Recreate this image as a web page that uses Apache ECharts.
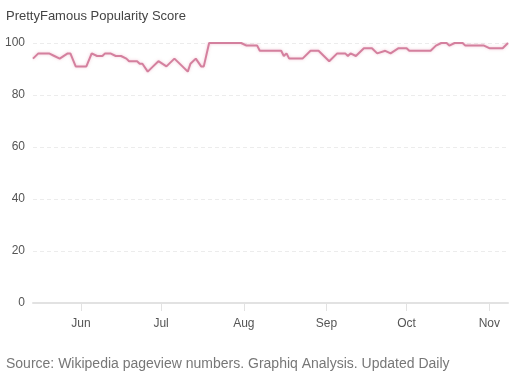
<!DOCTYPE html>
<html>
<head>
<meta charset="utf-8">
<script src="https://cdn.jsdelivr.net/npm/echarts@6/dist/echarts.min.js"></script>
<style>
html,body{margin:0;padding:0;background:#fff;}
#chart{width:531px;height:379px;}
</style>
</head>
<body>
<div id="chart"></div>
<script>
const titleText = 'PrettyFamous Popularity Score';
const sourceText = 'Source: Wikipedia pageview numbers. Graphiq Analysis. Updated Daily';
const monthNames = ['Jan','Feb','Mar','Apr','May','Jun','Jul','Aug','Sep','Oct','Nov','Dec'];
const yTicks = [0, 20, 40, 60, 80, 100];
const dates = [
  '2017-05-14','2017-05-16','2017-05-20','2017-05-22','2017-05-24','2017-05-27','2017-05-28','2017-05-30',
  '2017-06-03','2017-06-05','2017-06-07','2017-06-09','2017-06-10','2017-06-12','2017-06-14','2017-06-16',
  '2017-06-18','2017-06-19','2017-06-22','2017-06-23','2017-06-24','2017-06-26','2017-06-28','2017-06-30',
  '2017-07-03','2017-07-06','2017-07-09','2017-07-11','2017-07-12','2017-07-14','2017-07-16','2017-07-17',
  '2017-07-19','2017-07-31','2017-08-02','2017-08-06','2017-08-07','2017-08-15','2017-08-16','2017-08-17',
  '2017-08-18','2017-08-23','2017-08-26','2017-08-29','2017-09-02','2017-09-05','2017-09-08','2017-09-09',
  '2017-09-10','2017-09-12','2017-09-15','2017-09-18','2017-09-20','2017-09-23','2017-09-25','2017-09-28',
  '2017-10-01','2017-10-02','2017-10-10','2017-10-12','2017-10-14','2017-10-16','2017-10-17','2017-10-19',
  '2017-10-22','2017-10-23','2017-10-30','2017-11-01','2017-11-06','2017-11-08'
];
const scores = [
  94,96,96,95,94,96,96,91,
  91,96,95,95,96,96,95,95,
  94,93,93,92,92,89,91,93,
  91,94,91,89,92,94,91,91,
  100,100,99,99,97,97,95,96,
  94,94,97,97,93,96,96,95,
  96,95,98,98,96,97,96,98,
  98,97,97,99,100,100,99,100,
  100,99,99,98,98,100
];

const chart = echarts.init(document.getElementById('chart'), null, {renderer:'canvas'});
const seriesData = dates.map((d, i) => [d, scores[i]]);
chart.setOption({
  backgroundColor: '#ffffff',
  animation: false,
  title: [
    {text: titleText, left: 6, top: 10, padding: 0, textStyle: {fontFamily: 'Liberation Sans, Arial, sans-serif', fontSize: 13, fontWeight: 'normal', color: '#444'}},
    {text: sourceText, left: 6, top: 357, padding: 0, textStyle: {fontFamily: 'Liberation Sans, Arial, sans-serif', fontSize: 14, fontWeight: 'normal', color: '#777'}}
  ],
  grid: {left: 33, right: 23, top: 43, bottom: 76, containLabel: false},
  xAxis: {
    type: 'time',
    min: dates[0],
    max: dates[dates.length - 1],
    splitNumber: 6,
    axisLine: {show: true, lineStyle: {color: '#e2e2e2', width: 2}},
    axisTick: {show: true, length: 8, lineStyle: {color: '#e2e2e2'}},
    splitLine: {show: false},
    axisLabel: {
      showMinLabel: false, showMaxLabel: false,
      margin: 15,
      fontFamily: 'Liberation Sans, Arial, sans-serif', fontSize: 12, color: '#555',
      formatter: function (v) { return monthNames[new Date(v).getMonth()]; }
    }
  },
  yAxis: {
    type: 'value',
    min: yTicks[0], max: yTicks[yTicks.length - 1], interval: 20,
    axisLine: {show: false},
    axisTick: {show: false},
    axisLabel: {margin: 8, fontFamily: 'Liberation Sans, Arial, sans-serif', fontSize: 12, color: '#555'},
    splitLine: {show: true, lineStyle: {color: '#ececec', type: [4, 3], width: 1}}
  },
  series: [{
    type: 'line',
    data: seriesData,
    showSymbol: false,
    symbol: 'none',
    lineStyle: {color: '#d4809e', width: 2, shadowBlur: 3, shadowColor: 'rgba(230,140,170,0.5)'}
  }]
});
</script>
</body>
</html>
